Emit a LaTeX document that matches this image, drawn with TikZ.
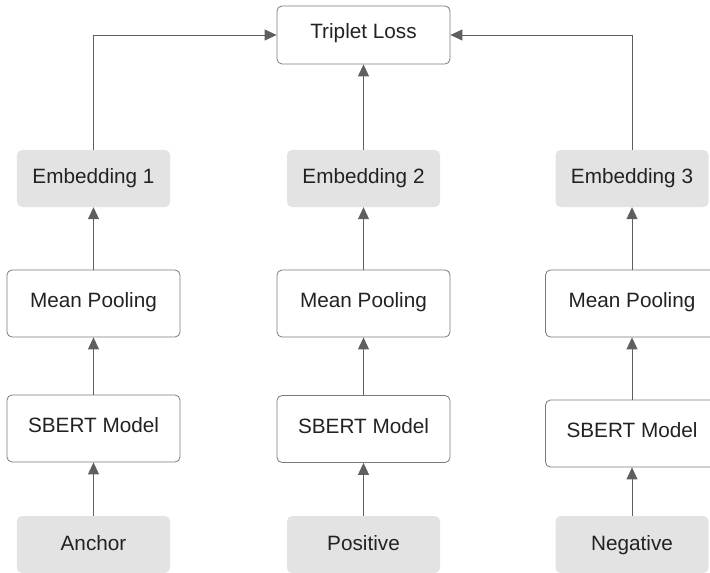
\documentclass[tikz,border=0pt]{standalone}
\usepackage{fontspec}
\setmainfont{Liberation Sans}
\usetikzlibrary{arrows.meta}
\definecolor{boxgray}{HTML}{E3E3E3}
\definecolor{edgegray}{HTML}{7A7A7A}
\definecolor{arrowgray}{HTML}{5F5F5F}
\definecolor{textgray}{HTML}{222222}
\begin{document}
\begin{tikzpicture}[x=1bp,y=-1bp,
  every node/.style={font=\fontsize{20.8}{24}\selectfont,text=textgray,inner sep=0pt,text height=15bp,text depth=7bp},
  stagebox/.style={draw=edgegray,line width=0.8bp,fill=white,rounded corners=5bp,minimum width=173bp,minimum height=67bp},
  databox/.style={fill=boxgray,rounded corners=5bp,minimum width=153bp,minimum height=57bp,text depth=4bp},
  flow/.style={draw=arrowgray,line width=0.9bp,-{Triangle[width=11bp,length=12bp]}}]
\useasboundingbox (0,0) rectangle (710,573);
% loss on top
\node[stagebox,minimum height=58bp] (loss) at (363.5,35) {Triplet Loss};
% embeddings
\node[databox] (emb1) at (93.5,178.5) {Embedding 1};
\node[databox] (emb2) at (363.5,178.5) {Embedding 2};
\node[databox] (emb3) at (632,178.5) {Embedding 3};
% pooling
\node[stagebox] (pool1) at (93.5,303.5) {Mean Pooling};
\node[stagebox] (pool2) at (363.5,303.5) {Mean Pooling};
\node[stagebox] (pool3) at (632,303.5) {Mean Pooling};
% encoders
\node[stagebox] (sbert1) at (93.5,428.5) {SBERT Model};
\node[stagebox] (sbert2) at (363.5,429) {SBERT Model};
\node[stagebox] (sbert3) at (632,433.5) {SBERT Model};
% inputs
\node[databox] (in1) at (93.5,544.5) {Anchor};
\node[databox] (in2) at (363.5,544.5) {Positive};
\node[databox] (in3) at (632,544.5) {Negative};
% arrows
\draw[flow] (in1) -- (sbert1);
\draw[flow] (in2) -- (sbert2);
\draw[flow] (in3) -- (sbert3);
\draw[flow] (sbert1) -- (pool1);
\draw[flow] (sbert2) -- (pool2);
\draw[flow] (sbert3) -- (pool3);
\draw[flow] (pool1) -- (emb1);
\draw[flow] (pool2) -- (emb2);
\draw[flow] (pool3) -- (emb3);
\draw[flow] (emb1.north) |- (loss.west);
\draw[flow] (emb2.north) -- (emb2.north |- loss.south);
\draw[flow] (emb3.north) |- (loss.east);
\end{tikzpicture}
\end{document}
